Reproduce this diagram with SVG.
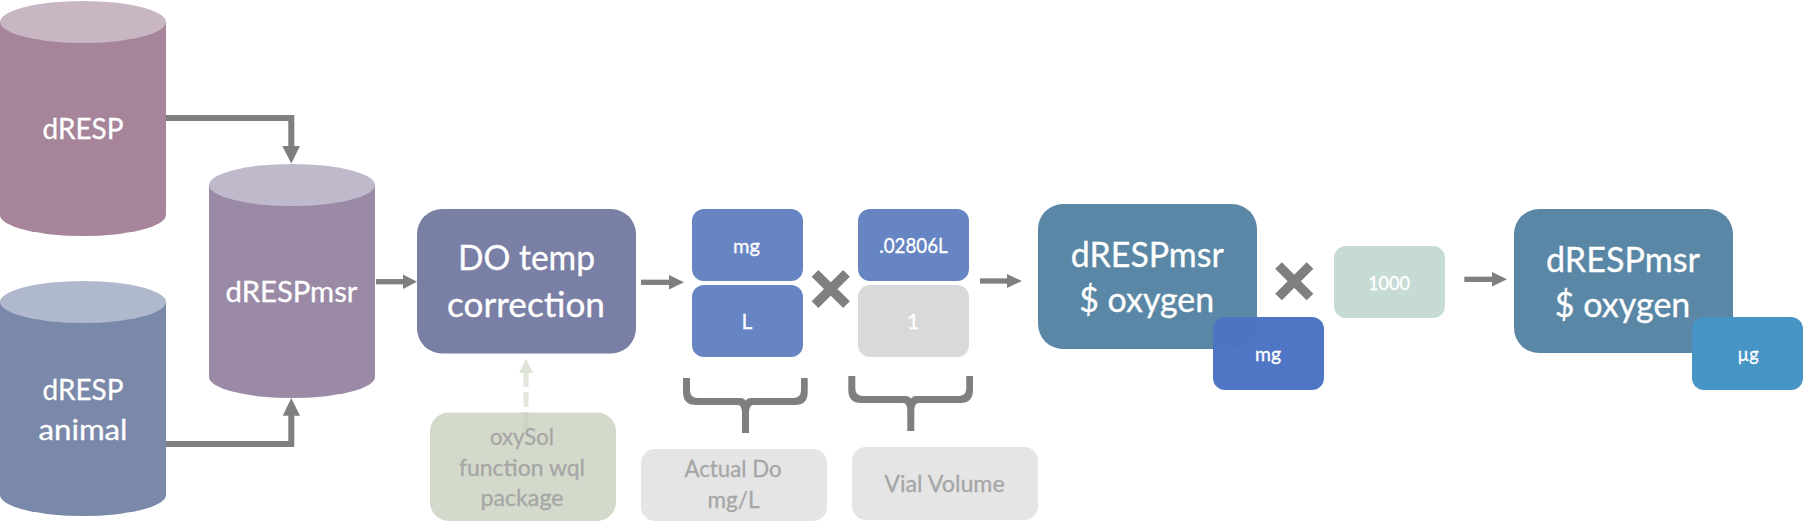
<svg xmlns="http://www.w3.org/2000/svg" width="1804" height="529" viewBox="0 0 1804 529">
<defs>
<style>
text{font-family:"Lato","Liberation Sans",sans-serif;text-anchor:middle;fill:#fff;stroke:#fff;stroke-width:.3}
.big{font-size:34px}.cyl{font-size:29px}.sm{font-size:20px}.md{font-size:21px}
.gt{fill:#a6a6a6;stroke:#a6a6a6;font-size:23.500px}
.e{fill:none;stroke:#7f7f7f;stroke-width:6}
.c{fill:none;stroke:#7f7f7f;stroke-width:5.300}
.h{fill:#7f7f7f}
.x{stroke:#7f7f7f;stroke-width:9.500;fill:none}
.blue{fill:#6685c2}
</style>
<path id="brace" d="M683 378H690V390Q690 398 698 398H741Q744 398 745.700 400.500Q747.500 398 750 398H793Q801 398 801 390V378H807.700V392Q807.700 405 795 405H753Q749.500 405 749 412V433H742V412Q741.500 405 738 405H696Q683 405 683 392Z" fill="#7f7f7f"/>
</defs>
<g id="dRESP">
<path d="M0 22V215A83 21 0 0 0 166 215V22Z" fill="#a6859b"/>
<ellipse cx="83" cy="22" rx="83" ry="21" fill="#c9b6c3"/>
<text class="cyl" x="83" y="139" textLength="81" lengthAdjust="spacingAndGlyphs">dRESP</text>
</g>
<g id="dRESP-animal">
<path d="M0 302V495A83 21 0 0 0 166 495V302Z" fill="#7a88a9"/>
<ellipse cx="83" cy="302" rx="83" ry="21" fill="#b0b8cd"/>
<text class="cyl" x="83" y="400" textLength="81" lengthAdjust="spacingAndGlyphs">dRESP</text>
<text class="cyl" x="83" y="440" textLength="89" lengthAdjust="spacingAndGlyphs">animal</text>
</g>
<g id="dRESPmsr">
<path d="M209 185V377A83 21 0 0 0 375 377V185Z" fill="#9a8aa6"/>
<ellipse cx="292" cy="185" rx="83" ry="21" fill="#c0b8cb"/>
<text class="cyl" x="291.500" y="302" textLength="132" lengthAdjust="spacingAndGlyphs">dRESPmsr</text>
</g>
<g id="do-temp">
<rect x="417" y="209" width="219" height="144.500" rx="25" fill="#7a80a5"/>
<text class="big" x="526.500" y="270" textLength="137" lengthAdjust="spacingAndGlyphs">DO temp</text>
<text class="big" x="526" y="316.500" textLength="158" lengthAdjust="spacingAndGlyphs">correction</text>
</g>
<g id="oxysol">
<rect x="430" y="412.500" width="186" height="108.500" rx="19" fill="#d3d9cb"/>
<text class="gt" x="522" y="445" textLength="64" lengthAdjust="spacingAndGlyphs">oxySol</text>
<text class="gt" x="522" y="475.500" textLength="126" lengthAdjust="spacingAndGlyphs">function wql</text>
<text class="gt" x="522" y="505.500" textLength="83" lengthAdjust="spacingAndGlyphs">package</text>
</g>
<g id="mg-top"><rect class="blue" x="692" y="209" width="111" height="72" rx="12"/><text class="sm" x="746.500" y="253" textLength="27" lengthAdjust="spacingAndGlyphs">mg</text></g>
<g id="L-bottom"><rect class="blue" x="692" y="285" width="111" height="72" rx="12"/><text class="md" x="747" y="328.700">L</text></g>
<g id="op-x1"><path class="x" d="M815 273.300L846.500 304.700M846.500 273.300L815 304.700"/></g>
<g id="vial-top"><rect class="blue" x="858" y="209" width="111" height="72" rx="12"/><text class="md" x="913.500" y="252.700" textLength="68.500" lengthAdjust="spacingAndGlyphs">.02806L</text></g>
<g id="vial-bottom"><rect x="858" y="285" width="111" height="72" rx="12" fill="#d9d9d9"/><text class="md" x="913" y="328.500">1</text></g>
<g id="brace1"><use href="#brace"/></g>
<g id="brace2"><use href="#brace" transform="translate(165.300 -2)"/></g>
<g id="actual-do">
<rect x="641" y="449" width="186" height="72" rx="14" fill="#e5e5e5"/>
<text class="gt" x="733" y="476.700" textLength="97" lengthAdjust="spacingAndGlyphs">Actual Do</text>
<text class="gt" x="733.500" y="508" textLength="52" lengthAdjust="spacingAndGlyphs">mg/L</text>
</g>
<g id="vial-volume">
<rect x="852" y="447" width="186" height="73" rx="14" fill="#e5e5e5"/>
<text class="gt" x="944.500" y="492" textLength="120.500" lengthAdjust="spacingAndGlyphs">Vial Volume</text>
</g>
<g id="oxygen-mg">
<rect x="1038" y="204" width="219" height="145" rx="25" fill="#5b87a6"/>
<text class="big" x="1147.300" y="266.700" textLength="153" lengthAdjust="spacingAndGlyphs">dRESPmsr</text>
<text class="big" x="1146.700" y="311.700" textLength="135" lengthAdjust="spacingAndGlyphs">$ oxygen</text>
<rect x="1213" y="317" width="111" height="73" rx="12" fill="#4b73c4" fill-opacity=".98"/>
<text class="sm" x="1268" y="361" textLength="26" lengthAdjust="spacingAndGlyphs">mg</text>
</g>
<g id="op-x2"><path class="x" d="M1278.500 265.500L1310 297M1310 265.500L1278.500 297"/></g>
<g id="factor"><rect x="1334" y="246" width="111" height="72" rx="12" fill="#c6dbd6"/><text class="md" x="1389" y="290" style="font-size:20px" textLength="42" lengthAdjust="spacingAndGlyphs">1000</text></g>
<g id="oxygen-ug">
<rect x="1514" y="209" width="219" height="144" rx="25" fill="#5b87a6"/>
<text class="big" x="1623" y="271.700" textLength="154" lengthAdjust="spacingAndGlyphs">dRESPmsr</text>
<text class="big" x="1622.600" y="316.700" textLength="135.500" lengthAdjust="spacingAndGlyphs">$ oxygen</text>
<rect x="1692" y="317" width="111" height="73" rx="12" fill="#4695c5"/>
<text class="sm" x="1748" y="361" textLength="21" lengthAdjust="spacingAndGlyphs">µg</text>
</g>
<g id="connectors">
<path class="e" d="M166 118H291.300V148"/><path class="h" d="M282.300 146H300L291.300 163.500Z"/>
<path class="e" d="M166 444H291.300V414"/><path class="h" d="M282.700 415.700H300L291.300 398Z"/>
<path class="c" d="M376 281.700H404"/><path class="h" d="M403 274.500L417 281.700L403 289Z"/>
<path class="c" d="M641 282.300H670"/><path class="h" d="M669 275L684 282.300L669 289.500Z"/>
<path class="c" d="M980 281H1008"/><path class="h" d="M1007 274L1022 281L1007 288Z"/>
<path class="c" d="M1464.300 279.300H1493"/><path class="h" d="M1492 272L1507 279.300L1492 286.500Z"/>
<path d="M526 373V387M526 392V407M526 412V428" fill="none" stroke="#c5d0b8" stroke-opacity=".5" stroke-width="5"/>
<path d="M519 373H533L526 359Z" fill="#dde3d5"/>
</g>
</svg>
